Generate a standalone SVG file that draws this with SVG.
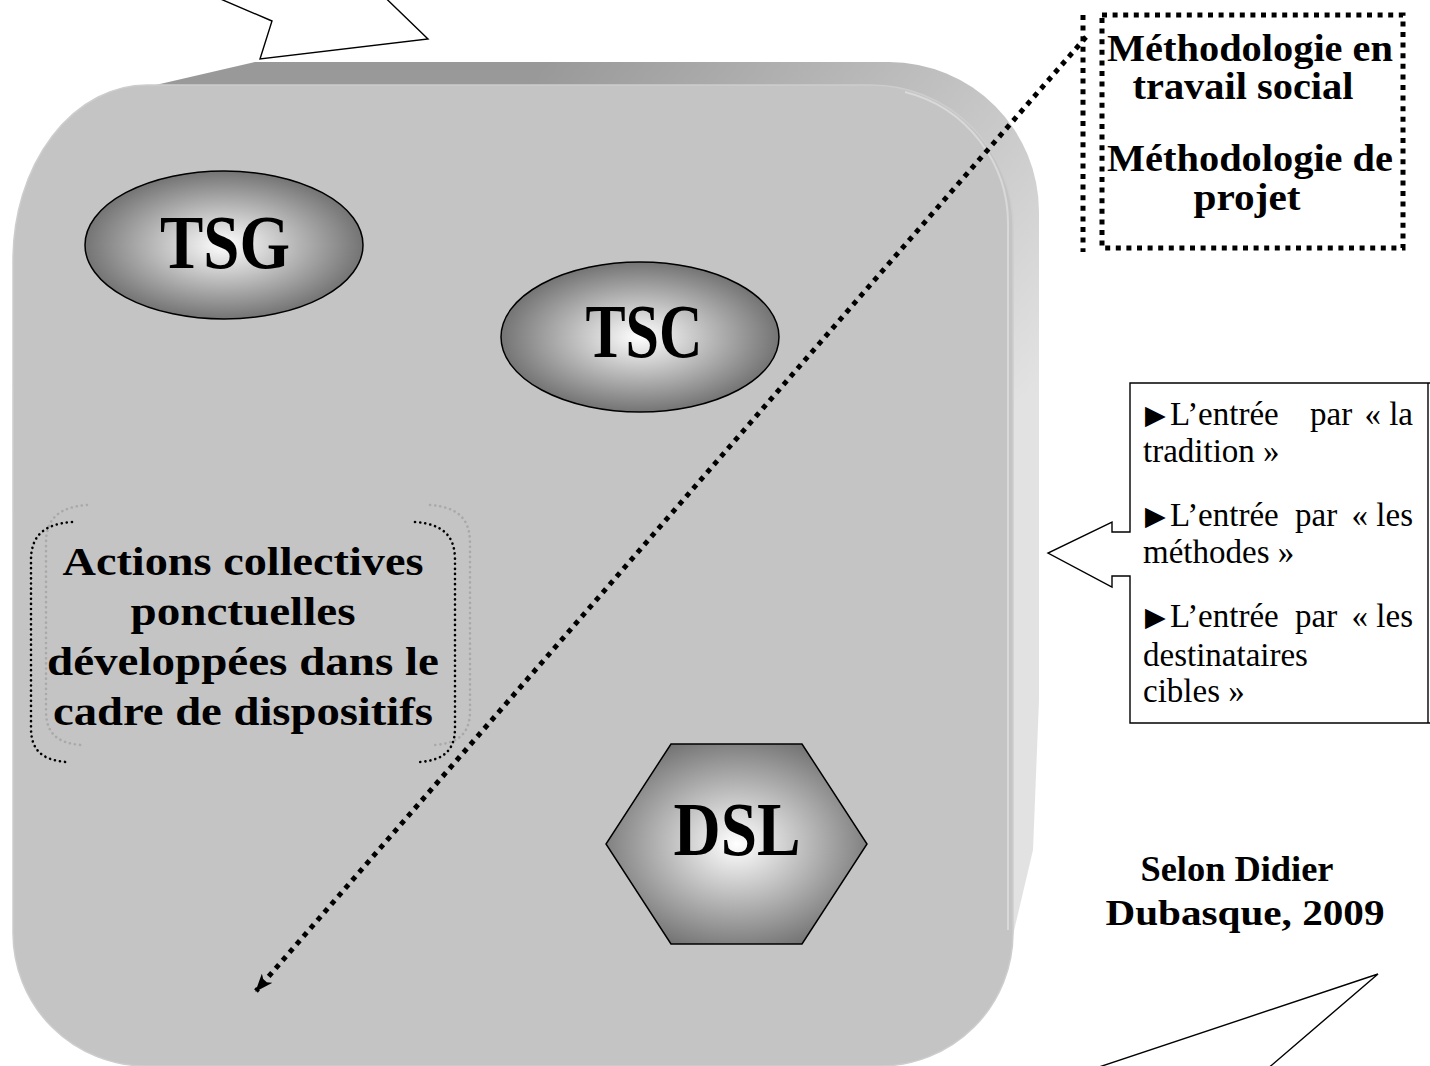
<svg xmlns="http://www.w3.org/2000/svg" width="1430" height="1066" viewBox="0 0 1430 1066">
<defs>
<style>
.b{font-family:"Liberation Serif","Times New Roman",serif;font-weight:bold;fill:#000}
.r{font-family:"Liberation Serif","Times New Roman",serif;font-weight:normal;fill:#000;font-size:33px}
.tri{font-family:"DejaVu Sans",sans-serif;font-size:27px;fill:#000}
.big{font-size:76px}
.mid{font-size:40px}
.met{font-size:38px}
.outl{fill:#fff;stroke:#000;stroke-width:1.4}
.dot5{fill:none;stroke:#000;stroke-width:5;stroke-dasharray:5 5.6}
.bk{fill:none;stroke:#000;stroke-width:2.6;stroke-dasharray:0.1 5;stroke-linecap:round}
.gr{fill:none;stroke:#a9a9a9;stroke-width:2.6;stroke-dasharray:0.1 5;stroke-linecap:round}
.shape{stroke:#000;stroke-width:1.5}
</style>
<linearGradient id="backG" gradientUnits="userSpaceOnUse" x1="600" y1="0" x2="1040" y2="380">
<stop offset="0" stop-color="#999"/>
<stop offset="1" stop-color="#e2e2e2"/>
</linearGradient>
<radialGradient id="ovalG" cx="0.5" cy="0.5" r="0.5">
<stop offset="0" stop-color="#fff"/>
<stop offset="1" stop-color="#747474"/>
</radialGradient>
<radialGradient id="hexG" cx="0.5" cy="0.5" r="0.55">
<stop offset="0" stop-color="#fff"/>
<stop offset="1" stop-color="#747474"/>
</radialGradient>
<marker id="arr" viewBox="0 0 18 14" refX="17" refY="7" markerWidth="18" markerHeight="14" markerUnits="userSpaceOnUse" orient="auto">
<path d="M0,0 L18,7 L0,14 L5,7 Z" fill="#000"/>
</marker>
</defs>
<rect width="1430" height="1066" fill="#fff"/>

<g id="callout-top">
<polygon class="outl" points="176,-20 272,21 260,59 428,39 367,-20"/>
</g>

<g id="frame">
<path d="M147,87 L255,62 H889 A150 150 0 0 1 1039,212 V700 L1033,850 L1013,935 L600,600 Z" fill="url(#backG)"/>
<path d="M147,85 H871 A142 142 0 0 1 1013,227 V933 A133 133 0 0 1 880,1066 H146 A133 133 0 0 1 13,933 V260 A134 175 0 0 1 147,85 Z" fill="#c4c4c4" stroke="#cdcdcd" stroke-width="1.5"/>
<path d="M905,92 A136 136 0 0 1 1008,227 V930" fill="none" stroke="#d9d9d9" stroke-width="2"/>
</g>

<g id="callout-bottom">
<polygon class="outl" points="1090,1070 1378,974 1266,1070"/>
</g>

<g id="node-tsg">
<ellipse class="shape" cx="224" cy="245" rx="139" ry="74" fill="url(#ovalG)"/>
<text class="b big" x="225" y="268" text-anchor="middle" textLength="130" lengthAdjust="spacingAndGlyphs">TSG</text>
</g>

<g id="node-tsc">
<ellipse class="shape" cx="640" cy="337" rx="139" ry="75" fill="url(#ovalG)"/>
<text class="b big" x="644" y="357" text-anchor="middle" textLength="117" lengthAdjust="spacingAndGlyphs">TSC</text>
</g>

<g id="node-dsl">
<polygon class="shape" points="671,744 802,744 867,844 802,944 671,944 606,844" fill="url(#hexG)"/>
<text class="b big" x="737" y="855" text-anchor="middle" textLength="127" lengthAdjust="spacingAndGlyphs">DSL</text>
</g>

<g id="node-actions">
<path class="gr" d="M87,505 C60,507 46,518 46,543 V711 C46,733 57,743 81,745"/>
<path class="gr" d="M430,505 C457,507 470,518 470,543 V711 C470,733 459,743 435,745"/>
<path class="bk" d="M72,522 C45,524 31,535 31,560 V728 C31,750 42,760 66,762"/>
<path class="bk" d="M415,522 C442,524 455,535 455,560 V728 C455,750 444,760 420,762"/>
<text class="b mid" x="243" y="575" text-anchor="middle" textLength="361" lengthAdjust="spacingAndGlyphs">Actions collectives</text>
<text class="b mid" x="243" y="625" text-anchor="middle" textLength="225" lengthAdjust="spacingAndGlyphs">ponctuelles</text>
<text class="b mid" x="243" y="675" text-anchor="middle" textLength="392" lengthAdjust="spacingAndGlyphs">développées dans le</text>
<text class="b mid" x="243" y="725" text-anchor="middle" textLength="380" lengthAdjust="spacingAndGlyphs">cadre de dispositifs</text>
</g>

<g id="connectors">
<line class="dot5" x1="1086" y1="37" x2="256" y2="991" marker-end="url(#arr)"/>
</g>

<g id="node-methodo">
<line class="dot5" x1="1083" y1="15" x2="1083" y2="252"/>
<rect class="dot5" x="1102" y="15" width="301" height="233"/>
<text class="b met" x="1250" y="61" text-anchor="middle" textLength="286" lengthAdjust="spacingAndGlyphs">Méthodologie en</text>
<text class="b met" x="1243" y="99" text-anchor="middle" textLength="221" lengthAdjust="spacingAndGlyphs">travail social</text>
<text class="b met" x="1250" y="171" text-anchor="middle" textLength="286" lengthAdjust="spacingAndGlyphs">Méthodologie de</text>
<text class="b met" x="1247" y="210" text-anchor="middle" textLength="107" lengthAdjust="spacingAndGlyphs">projet</text>
</g>

<g id="node-entrees">
<path d="M1432,383 H1130 V532 H1112 V522 L1048,553 L1112,587 V576 H1130 V723 H1432" fill="#fff" stroke="#000" stroke-width="1.4"/>
<line x1="1428" y1="383" x2="1428" y2="723" stroke="#000" stroke-width="1.4"/>
<text class="tri" x="1145" y="424">▶</text>
<text class="r" x="1170" y="425">L’entrée</text>
<text class="r" x="1310" y="425">par</text>
<text class="r" x="1413" y="425" text-anchor="end">« la</text>
<text class="r" x="1143" y="462">tradition »</text>
<text class="tri" x="1145" y="525">▶</text>
<text class="r" x="1170" y="526">L’entrée</text>
<text class="r" x="1295" y="526">par</text>
<text class="r" x="1413" y="526" text-anchor="end">« les</text>
<text class="r" x="1143" y="563">méthodes »</text>
<text class="tri" x="1145" y="626">▶</text>
<text class="r" x="1170" y="627">L’entrée</text>
<text class="r" x="1295" y="627">par</text>
<text class="r" x="1413" y="627" text-anchor="end">« les</text>
<text class="r" x="1143" y="666">destinataires</text>
<text class="r" x="1143" y="702">cibles »</text>
</g>

<g id="node-citation">
<text class="b" font-size="36" x="1237" y="881" text-anchor="middle" textLength="193" lengthAdjust="spacingAndGlyphs">Selon Didier</text>
<text class="b" font-size="36" x="1245" y="925" text-anchor="middle" textLength="279" lengthAdjust="spacingAndGlyphs">Dubasque, 2009</text>
</g>
</svg>
